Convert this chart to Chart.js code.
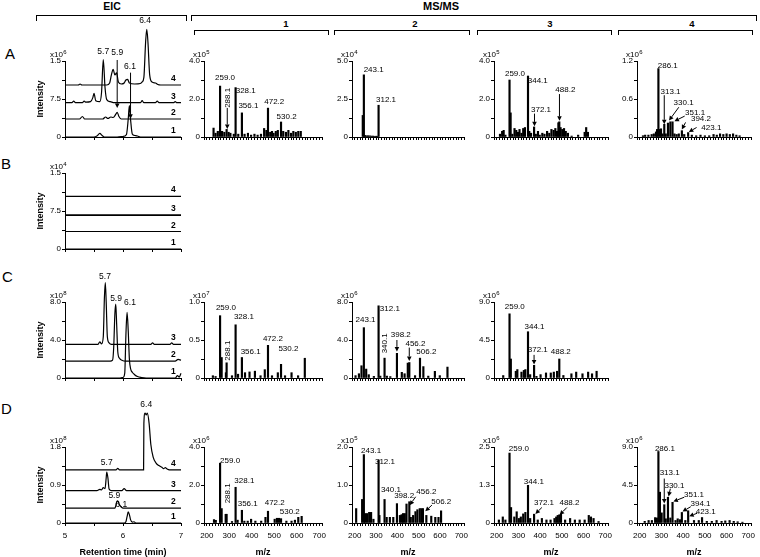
<!DOCTYPE html>
<html>
<head>
<meta charset="utf-8">
<script src="https://cdn.jsdelivr.net/npm/chart.js@4.4.0/dist/chart.umd.min.js"></script>
<style>
  body { margin: 0; background: #fff; }
  #fig { position: relative; width: 760px; height: 557px; overflow: hidden; background: #fff;
         font-family: "Liberation Sans", Arial, sans-serif; color: #000; }
  #fig canvas { position: absolute; }
  .br { position: absolute; border: 1.3px solid #000; border-bottom: none; box-sizing: border-box; }
  .hd { position: absolute; font-weight: bold; text-align: center; color: #000; }
  .row { position: absolute; font-size: 15px; line-height: 15px; }
</style>
</head>
<body>
<div id="fig">
  <div class="hd" style="left:82px;top:0;width:60px;font-size:10.5px">EIC</div>
  <div class="hd" style="left:411px;top:0;width:60px;font-size:11px">MS/MS</div>
  <div class="br" style="left:36px;top:15px;width:151px;height:6px"></div>
  <div class="br" style="left:191px;top:15px;width:566px;height:6px"></div>
  <div class="hd" style="left:276px;top:18px;width:20px;font-size:9.5px">1</div>
  <div class="hd" style="left:405px;top:18px;width:20px;font-size:9.5px">2</div>
  <div class="hd" style="left:540px;top:18px;width:20px;font-size:9.5px">3</div>
  <div class="hd" style="left:682px;top:18px;width:20px;font-size:9.5px">4</div>
  <div class="br" style="left:194px;top:30px;width:135px;height:5px"></div>
  <div class="br" style="left:334px;top:30px;width:136px;height:5px"></div>
  <div class="br" style="left:477px;top:30px;width:135px;height:5px"></div>
  <div class="br" style="left:618px;top:30px;width:135px;height:5px"></div>
  <div class="row" style="left:5px;top:46px">A</div>
  <div class="row" style="left:1px;top:156px">B</div>
  <div class="row" style="left:2px;top:269px">C</div>
  <div class="row" style="left:1px;top:401px">D</div>
</div>
<script>
// ---- EIC traces: [retention time (min), intensity above the trace's own baseline] ----
const eicA1 = [[5,0],[5.5,0],[5.55,0.02],[5.6,0.07],[5.64,0.03],[5.68,0],[5.9,0],[6.0,0.01],[6.06,0.05],[6.09,0.35],[6.11,0.62],[6.13,0.35],[6.16,0.06],[6.2,0.03],[6.25,0.02],[6.3,0],[7,0]];
const eicA2 = [[5,0],[5.25,0],[5.3,0.05],[5.34,0],[5.65,0],[5.7,0.04],[5.74,0.01],[5.79,0.04],[5.83,0.03],[5.88,0.1],[5.9,0.13],[5.93,0.05],[5.97,0],[7,0]];
const eicA3 = [[5,0],[5.12,0],[5.15,0.03],[5.18,0],[5.3,0],[5.33,0.03],[5.36,0.01],[5.44,0.02],[5.48,0.1],[5.5,0.185],[5.53,0.04],[5.6,0.02],[5.63,0.2],[5.66,0.85],[5.69,0.3],[5.72,0.06],[5.78,0.02],[5.85,0],[6.3,0],[6.33,0.04],[6.36,0],[6.56,0],[6.59,0.03],[6.62,0],[6.87,0],[6.9,0.02],[6.93,0],[7,0]];
const eicA4 = [[5,0],[5.23,0],[5.26,0.02],[5.29,0],[5.72,0],[5.77,0.04],[5.8,0.2],[5.83,0.31],[5.86,0.2],[5.89,0.24],[5.92,0.06],[5.97,0.02],[6.02,0.04],[6.05,0.1],[6.08,0.11],[6.11,0.04],[6.2,0.02],[6.3,0.03],[6.33,0.06],[6.36,0.15],[6.39,0.85],[6.41,1.1],[6.43,0.85],[6.46,0.2],[6.5,0.06],[6.56,0.04],[6.6,0.01],[6.65,0],[7,0]];
const eicA_off = [0, 0.355, 0.677, 1.026];

const eicB_flat = [[5,0],[7,0]];
const eicB_off = [0, 0.345, 0.67, 1.04];

const eicC1 = [[5,0],[5.95,0],[6.0,0.05],[6.03,0.5],[6.05,4.5],[6.07,6.9],[6.09,5.0],[6.11,2.0],[6.13,1.0],[6.16,0.6],[6.2,0.35],[6.25,0.15],[6.32,0.05],[6.4,0],[6.9,0],[6.94,0.25],[6.97,0.1],[7,0.5]];
const eicC2 = [[5,0],[5.78,0],[5.82,0.1],[5.84,1.5],[5.86,5.0],[5.875,6.0],[5.89,4.0],[5.91,1.0],[5.94,0.3],[5.98,0.1],[6.05,0],[6.9,0],[6.95,0.2],[7,0.1]];
const eicC3 = [[5,0],[5.57,0],[5.6,0.25],[5.63,0.05],[5.66,0.8],[5.68,5.0],[5.695,6.5],[5.71,4.5],[5.73,0.8],[5.76,0.15],[5.8,0],[6.48,0],[6.51,0.15],[6.54,0],[6.81,0],[6.84,0.15],[6.87,0],[7,0]];
const eicC_off = [0, 1.77, 3.55];

const eicD1 = [[5,0],[6.02,0],[6.05,0.03],[6.07,0.15],[6.09,0.263],[6.11,0.2],[6.13,0.08],[6.16,0.02],[6.19,0.03],[6.22,0],[7,0]];
const eicD2 = [[5,0],[5.86,0],[5.88,0.08],[5.9,0.176],[5.92,0.15],[5.94,0.08],[5.97,0.03],[6.0,0],[7,0]];
const eicD3 = [[5,0],[5.55,0],[5.6,0.03],[5.63,0.02],[5.66,0.07],[5.69,0.05],[5.71,0.3],[5.72,0.44],[5.74,0.3],[5.76,0.04],[5.8,0],[5.98,0],[6.02,0.05],[6.06,0],[7,0]];
const eicD4 = [[5,0],[5.88,0],[5.91,0.035],[5.94,0],[6.355,0],[6.36,1.1],[6.38,1.34],[6.4,1.3],[6.42,1.34],[6.45,1.1],[6.48,0.6],[6.52,0.3],[6.57,0.16],[6.62,0.1],[6.67,0.06],[6.7,0.03],[6.73,0.05],[6.76,0.02],[6.8,0],[7,0]];
const eicD_off = [0, 0.35, 0.766, 1.26];

// ---- MS/MS spectra: m/z and intensity (in the panel's axis units) ----
const msA1_mz  = [230, 239, 249, 259.0, 268, 278, 288.1, 297, 305, 320, 328.1, 340, 356.1, 368, 383, 397, 412, 426, 441, 455, 465, 472.2, 482, 490, 497, 507, 516, 530.2, 540, 552, 563, 575, 585, 596, 607, 618];
const msA1_int = [0.47, 0.2, 0.3, 2.68, 0.3, 0.25, 0.4, 0.25, 0.2, 0.15, 2.6, 0.15, 1.27, 0.15, 0.2, 0.1, 0.15, 0.1, 0.15, 0.45, 0.35, 1.52, 0.25, 0.3, 0.2, 0.3, 0.35, 0.79, 0.3, 0.25, 0.35, 0.2, 0.3, 0.25, 0.3, 0.3];
const msA2_mz  = [238, 243.1, 248, 255, 262, 270, 278, 285, 292, 300, 306, 312.1];
const msA2_int = [1.42, 4.09, 0.1, 0.08, 0.08, 0.08, 0.06, 0.06, 0.05, 0.05, 0.05, 2.09];
const msA3_mz  = [215, 225, 232, 240, 259.0, 264, 272, 282, 290, 298, 305, 314, 322, 330, 344.1, 350, 358, 372.1, 380, 390, 398, 410, 420, 432, 442, 452, 462, 470, 478, 484, 488.2, 494, 502, 510, 518, 528, 545, 575, 605, 612, 620];
const msA3_int = [0.15, 0.3, 0.35, 0.1, 3.0, 1.27, 0.15, 0.45, 0.35, 0.25, 0.4, 0.2, 0.45, 0.5, 3.21, 0.3, 0.2, 0.53, 0.15, 0.3, 0.1, 0.2, 0.15, 0.3, 0.2, 0.4, 0.35, 0.45, 0.3, 0.75, 0.8, 0.5, 0.4, 0.45, 0.3, 0.2, 0.05, 0.1, 0.25, 0.5, 0.25];
const msA4_mz  = [215, 225, 240, 255, 265, 275, 280, 286.1, 292, 298, 305, 313.1, 320, 330.1, 341, 351.1, 360, 370, 380, 394.2, 405, 423.1, 440, 460, 480, 500, 520, 540, 555, 570, 585, 600, 615, 630, 645, 660];
const msA4_int = [0.02, 0.03, 0.03, 0.04, 0.05, 0.08, 0.12, 1.08, 0.12, 0.13, 0.05, 0.2, 0.05, 0.22, 0.24, 0.24, 0.05, 0.04, 0.05, 0.1, 0.04, 0.07, 0.03, 0.02, 0.03, 0.02, 0.02, 0.04, 0.03, 0.05, 0.04, 0.05, 0.04, 0.05, 0.03, 0.02];

const msC1_mz  = [227, 239, 259.0, 266, 285, 288.1, 312, 328.1, 339, 356.1, 370, 390, 414, 439, 458, 472.2, 490, 516, 530.2, 548, 577, 606, 636];
const msC1_int = [0.03, 0.02, 0.82, 0.27, 0.07, 0.2, 0.03, 0.7, 0.05, 0.27, 0.07, 0.08, 0.09, 0.03, 0.11, 0.43, 0.03, 0.07, 0.18, 0.03, 0.07, 0.03, 0.26];
const msC2_mz  = [204, 220, 232, 243.1, 254, 266, 290, 312.1, 320, 340.1, 351, 367, 398.2, 421, 434, 449, 456.2, 483, 506.2, 522, 545, 576, 599, 635];
const msC2_int = [0.25, 0.45, 1.29, 5.3, 0.94, 0.35, 0.17, 7.6, 0.2, 2.09, 0.2, 0.15, 2.6, 0.6, 0.45, 1.57, 1.63, 0.25, 2.09, 1.2, 0.2, 0.7, 0.25, 1.15];
const msC3_mz  = [230, 259.0, 265, 288, 295, 314, 325, 332, 344.1, 354, 372.1, 383, 402, 427, 449, 463, 478, 488.2, 507, 544, 566, 595, 621, 639, 660];
const msC3_int = [0.29, 7.6, 2.25, 0.8, 1.0, 0.7, 0.9, 1.0, 5.48, 0.4, 1.5, 0.2, 0.4, 0.6, 0.6, 0.7, 0.8, 2.25, 0.3, 0.5, 0.7, 0.5, 0.7, 0.5, 0.8];

const msD1_mz  = [232, 240, 259.0, 266, 284, 288.1, 312, 328.1, 337, 356.1, 367, 382, 397, 416, 442, 461, 472.2, 502, 512, 521, 530.2, 554, 577, 592, 607, 622];
const msD1_int = [0.18, 0.14, 3.15, 0.76, 0.46, 0.46, 0.08, 1.88, 0.15, 0.67, 0.1, 0.1, 0.2, 0.1, 0.1, 0.3, 0.62, 0.2, 0.25, 0.25, 0.23, 0.1, 0.1, 0.15, 0.3, 0.35];
const msD2_mz  = [207, 235, 243.1, 249, 258, 268, 277, 288, 312.1, 316, 340.1, 350, 365, 381, 398.2, 412, 420, 427, 435, 443, 456.2, 463, 474, 485, 494, 505, 513, 520, 536, 559, 578, 593, 605];
const msD2_int = [0.38, 0.62, 1.8, 0.25, 0.25, 0.28, 0.28, 0.1, 1.66, 0.2, 0.62, 0.15, 0.15, 0.15, 0.51, 0.2, 0.22, 0.25, 0.25, 0.5, 0.56, 0.15, 0.2, 0.3, 0.35, 0.38, 0.38, 0.38, 0.2, 0.18, 0.15, 0.15, 0.32];
const msD3_mz  = [210, 228, 240, 259.0, 266, 281, 292, 302, 311, 322, 332, 344.1, 354, 372.1, 389, 408, 429, 448, 466, 474, 481, 488.2, 496, 515, 538, 560, 582, 605, 624, 634, 646, 669];
const msD3_int = [0.1, 0.2, 0.1, 2.3, 0.51, 0.2, 0.37, 0.15, 0.2, 0.3, 0.35, 1.24, 0.15, 0.29, 0.1, 0.15, 0.1, 0.1, 0.15, 0.2, 0.25, 0.27, 0.3, 0.1, 0.15, 0.1, 0.1, 0.1, 0.25, 0.2, 0.15, 0.05];
const msD4_mz  = [223, 241, 256, 271, 279, 286.1, 293, 301, 313.1, 320, 330.1, 341, 351.1, 365, 375, 386, 394.1, 410, 423.1, 450, 472, 487, 509, 532, 554, 577, 594, 614, 633, 651, 673];
const msD4_int = [0.2, 0.3, 0.3, 0.64, 0.6, 8.47, 3.65, 1.2, 2.17, 0.5, 3.05, 0.6, 2.45, 0.3, 0.5, 0.4, 1.25, 0.3, 1.45, 0.3, 0.3, 0.65, 0.2, 0.2, 0.3, 0.2, 0.25, 0.3, 0.2, 0.15, 0.1];

// ---- tick labels ----
const rtTicks = [5, 6, 7];
const mzTicks = [200, 300, 400, 500, 600, 700];
const traceNames4 = ['1', '2', '3', '4'];
const traceNames3 = ['1', '2', '3'];

const FONT = '"Liberation Sans", Arial, sans-serif';
Chart.defaults.font.family = FONT;
const fig = document.getElementById('fig');

function arrow(ctx, x1, y1, x2, y2) {
  const ang = Math.atan2(y2 - y1, x2 - x1), L = 4.5, H = 2.3;
  const bx = x2 - L * Math.cos(ang), by = y2 - L * Math.sin(ang);
  ctx.beginPath(); ctx.moveTo(x1, y1); ctx.lineTo(bx, by); ctx.stroke();
  ctx.beginPath();
  ctx.moveTo(x2, y2);
  ctx.lineTo(bx + H * Math.sin(ang), by - H * Math.cos(ang));
  ctx.lineTo(bx - H * Math.sin(ang), by + H * Math.cos(ang));
  ctx.closePath(); ctx.fill();
}

function makeNotes(p) {
  return {
    id: 'notes',
    afterDatasetsDraw(chart) {
      const ctx = chart.ctx, a = chart.chartArea;
      const X = v => chart.scales.x.getPixelForValue(v);
      const Y = v => chart.scales.y.getPixelForValue(v);
      ctx.save();
      ctx.fillStyle = '#000'; ctx.strokeStyle = '#000'; ctx.lineWidth = 1;

      // axis exponent, e.g. x10^6
      ctx.textAlign = 'left'; ctx.textBaseline = 'alphabetic';
      ctx.font = '8px ' + FONT;
      const ex = a.left - p.expDx, ey = a.top - 4;
      ctx.fillText('x10', ex, ey);
      const w = ctx.measureText('x10').width;
      ctx.font = '6px ' + FONT;
      ctx.fillText(p.exp, ex + w + 0.3, ey - 3.5);

      ctx.textBaseline = 'middle';
      (p.notes || []).forEach(n => {
        ctx.font = p.noteFont;
        if (n.rot) {
          ctx.save(); ctx.translate(X(n.x), Y(n.y)); ctx.rotate(-Math.PI / 2);
          ctx.textAlign = 'center'; ctx.fillText(n.t, 0, 0); ctx.restore();
        } else {
          ctx.textAlign = n.al || 'center';
          ctx.fillText(n.t, X(n.x), Y(n.y));
        }
      });
      (p.arrows || []).forEach(r => arrow(ctx, X(r[0]), Y(r[1]), X(r[2]), Y(r[3])));

      if (p.names) {
        ctx.font = 'bold 8.5px ' + FONT; ctx.textAlign = 'center'; ctx.textBaseline = 'bottom';
        p.names.forEach((nm, i) => ctx.fillText(nm, X(6.87), Y(p.offsets[i]) - 2));
      }
      if (p.yTitle) {
        ctx.save(); ctx.font = 'bold 9px ' + FONT;
        ctx.translate(a.left - 24, (a.top + a.bottom) / 2); ctx.rotate(-Math.PI / 2);
        ctx.textAlign = 'center'; ctx.textBaseline = 'middle'; ctx.fillText(p.yTitle, 0, 0);
        ctx.restore();
      }
      if (p.xTitle) {
        ctx.font = 'bold 9px ' + FONT; ctx.textAlign = 'center'; ctx.textBaseline = 'middle';
        ctx.fillText(p.xTitle, (a.left + a.right) / 2, a.bottom + 30);
      }
      ctx.restore();
    }
  };
}

function panel(p) {
  // the x scale box also clips its tick labels, so it is taller where labels are shown
  const PL = 46, PT = 50, PR = 12, PB = p.xLabels ? 40 : 10, YW = 20, XH = p.xLabels ? 22 : 4;
  const cv = document.createElement('canvas');
  cv.width = PL + p.w + PR; cv.height = PT + p.h + PB;
  cv.style.left = (p.left - PL) + 'px';
  cv.style.top = (p.top - PT) + 'px';
  fig.appendChild(cv);

  const tickFont = { family: FONT, size: 8 };
  const yStep = p.yVals[p.yVals.length - 1] / 4;
  const isMs = p.kind === 'ms';
  const xLabelSet = isMs ? mzTicks : rtTicks;

  const datasets = isMs
    ? [{ data: p.mz.map((m, i) => ({ x: m, y: p.int[i] })), backgroundColor: '#000',
         barThickness: 1.5, grouped: false, clip: false }]
    : p.traces.map((tr, i) => ({
        type: 'line',
        data: tr.map(d => ({ x: d[0], y: d[1] + p.offsets[i] })),
        borderColor: '#000', borderWidth: p.widths ? p.widths[i] : 1.2, pointRadius: 0,
        cubicInterpolationMode: 'monotone', clip: false
      }));

  new Chart(cv, {
    type: isMs ? 'bar' : 'line',
    data: { datasets },
    options: {
      responsive: false, animation: false,
      layout: { autoPadding: false, padding: { left: PL - YW, top: PT, right: PR, bottom: PB - XH } },
      plugins: { legend: { display: false }, tooltip: { enabled: false } },
      scales: {
        x: {
          type: 'linear', min: isMs ? 187.5 : 5, max: isMs ? 712.5 : 7, offset: false,
          afterFit: s => { s.height = XH; },
          ticks: {
            stepSize: isMs ? 12.5 : 0.5, autoSkip: false, includeBounds: false, maxRotation: 0,
            font: tickFont, color: '#000', padding: 5,
            callback: v => (p.xLabels && xLabelSet.some(t => Math.abs(t - v) < 1e-6)) ? String(v) : ''
          },
          grid: { drawOnChartArea: false, offset: false, tickLength: 3, color: '#000', lineWidth: 1 },
          border: { color: '#000', width: 1 }
        },
        y: {
          min: 0, max: p.yVals[p.yVals.length - 1],
          afterFit: s => { s.width = YW; },
          ticks: {
            stepSize: yStep, autoSkip: false, font: tickFont, color: '#000', padding: 1,
            callback: v => {
              const j = p.yVals.findIndex(t => Math.abs(t - v) < yStep * 0.01);
              return j >= 0 ? p.yText[j] : '';
            }
          },
          grid: { drawOnChartArea: false, tickLength: 3, color: '#000', lineWidth: 1 },
          border: { color: '#000', width: 1 }
        }
      }
    },
    plugins: [makeNotes(p)]
  });
}

// ---- layout of rows / columns ----
const rowTop = { A: 61, B: 173, C: 302, D: 447 };
const H = 76;
const msLeft = [204, 352, 494, 637];
const msW = [118, 112, 114, 114];
const nf = '8px ' + FONT;
const ef = '8.5px ' + FONT;

// EIC column
panel({ kind: 'eic', left: 65, top: rowTop.A, w: 116, h: H, exp: '6', expDx: 15, noteFont: ef,
  traces: [eicA1, eicA2, eicA3, eicA4], offsets: eicA_off, names: traceNames4,
  yVals: [0, 0.75, 1.5], yText: ['0', '7.5', '1.5'], yTitle: 'Intensity',
  notes: [{ t: '5.7', x: 5.66, y: 1.69 }, { t: '5.9', x: 5.9, y: 1.67 }, { t: '6.1', x: 6.12, y: 1.38 }, { t: '6.4', x: 6.38, y: 2.29 }],
  arrows: [[5.9, 1.52, 5.9, 0.57], [6.13, 1.27, 6.13, 0.36]] });
panel({ kind: 'eic', left: 65, top: rowTop.B, w: 116, h: H, exp: '4', expDx: 15, noteFont: ef,
  traces: [eicB_flat, eicB_flat, eicB_flat, eicB_flat], offsets: eicB_off, names: traceNames4,
  widths: [1.2, 1.2, 1.8, 1.2],
  yVals: [0, 0.75, 1.5], yText: ['0', '7.5', '1.5'], yTitle: 'Intensity' });
panel({ kind: 'eic', left: 65, top: rowTop.C, w: 116, h: H, exp: '8', expDx: 15, noteFont: ef,
  traces: [eicC1, eicC2, eicC3], offsets: eicC_off, names: traceNames3,
  yVals: [0, 4, 8], yText: ['0', '4.0', '8.0'], yTitle: 'Intensity',
  notes: [{ t: '5.7', x: 5.69, y: 10.7 }, { t: '5.9', x: 5.88, y: 8.35 }, { t: '6.1', x: 6.12, y: 7.9 }] });
panel({ kind: 'eic', left: 65, top: rowTop.D, w: 116, h: H, exp: '8', expDx: 15, noteFont: ef,
  traces: [eicD1, eicD2, eicD3, eicD4], offsets: eicD_off, names: traceNames4,
  yVals: [0, 0.9, 1.8], yText: ['0', '0.9', '1.8'], yTitle: 'Intensity',
  xLabels: true, xTitle: 'Retention time (min)',
  notes: [{ t: '6.4', x: 6.4, y: 2.8 }, { t: '5.7', x: 5.72, y: 1.44 }, { t: '5.9', x: 5.85, y: 0.65 }, { t: '6.1', x: 5.97, y: 0.43 }] });

// row A MS/MS
panel({ kind: 'ms', left: msLeft[0], top: rowTop.A, w: msW[0], h: H, exp: '5', expDx: 11, noteFont: nf,
  mz: msA1_mz, int: msA1_int, yVals: [0, 2, 4], yText: ['0', '2.0', '4.0'],
  notes: [{ t: '259.0', x: 281, y: 3.12 }, { t: '328.1', x: 373, y: 2.45 }, { t: '356.1', x: 385, y: 1.66 },
          { t: '472.2', x: 500, y: 1.83 }, { t: '530.2', x: 555, y: 1.04 }, { t: '288.1', x: 293, y: 2.06, rot: true }],
  arrows: [[291, 1.53, 291, 0.42]] });
panel({ kind: 'ms', left: msLeft[1], top: rowTop.A, w: msW[1], h: H, exp: '4', expDx: 11, noteFont: nf,
  mz: msA2_mz, int: msA2_int, yVals: [0, 2.5, 5], yText: ['0', '2.5', '5.0'],
  notes: [{ t: '243.1', x: 289, y: 4.44 }, { t: '312.1', x: 347, y: 2.44 }] });
panel({ kind: 'ms', left: msLeft[2], top: rowTop.A, w: msW[2], h: H, exp: '5', expDx: 11, noteFont: nf,
  mz: msA3_mz, int: msA3_int, yVals: [0, 2, 4], yText: ['0', '2.0', '4.0'],
  notes: [{ t: '259.0', x: 284, y: 3.32 }, { t: '344.1', x: 389, y: 2.95 }, { t: '372.1', x: 404, y: 1.45 }, { t: '488.2', x: 516, y: 2.47 }],
  arrows: [[374, 1.23, 374, 0.56], [489, 2.26, 489, 0.85]] });
panel({ kind: 'ms', left: msLeft[3], top: rowTop.A, w: msW[3], h: H, exp: '6', expDx: 11, noteFont: nf,
  mz: msA4_mz, int: msA4_int, yVals: [0, 0.6, 1.2], yText: ['0', '0.6', '1.2'],
  notes: [{ t: '286.1', x: 283, y: 1.12, al: 'left' }, { t: '313.1', x: 342, y: 0.71 }, { t: '330.1', x: 402, y: 0.54 },
          { t: '351.1', x: 455, y: 0.39 }, { t: '394.2', x: 482, y: 0.29 }, { t: '423.1', x: 530, y: 0.15 }],
  arrows: [[313, 0.66, 313, 0.2], [380, 0.47, 335, 0.26], [407, 0.33, 360, 0.25], [411, 0.23, 394, 0.12], [462, 0.15, 426, 0.08]] });

// row C MS/MS
panel({ kind: 'ms', left: msLeft[0], top: rowTop.C, w: msW[0], h: H, exp: '7', expDx: 11, noteFont: nf,
  mz: msC1_mz, int: msC1_int, yVals: [0, 0.5, 1], yText: ['0', '0.5', '1.0'],
  notes: [{ t: '259.0', x: 285, y: 0.93 }, { t: '328.1', x: 365, y: 0.8 }, { t: '288.1', x: 293, y: 0.36, rot: true },
          { t: '356.1', x: 395, y: 0.35 }, { t: '472.2', x: 494, y: 0.52 }, { t: '530.2', x: 563, y: 0.39 }] });
panel({ kind: 'ms', left: msLeft[1], top: rowTop.C, w: msW[1], h: H, exp: '6', expDx: 11, noteFont: nf,
  mz: msC2_mz, int: msC2_int, yVals: [0, 4, 8], yText: ['0', '4.0', '8.0'],
  notes: [{ t: '243.1', x: 251, y: 6.1 }, { t: '312.1', x: 318, y: 7.3, al: 'left' }, { t: '340.1', x: 340, y: 3.65, rot: true },
          { t: '398.2', x: 416, y: 4.52 }, { t: '456.2', x: 485, y: 3.58 }, { t: '506.2', x: 536, y: 2.78 }],
  arrows: [[398, 4.0, 398, 2.8], [456, 3.2, 456, 1.8]] });
panel({ kind: 'ms', left: msLeft[2], top: rowTop.C, w: msW[2], h: H, exp: '6', expDx: 11, noteFont: nf,
  mz: msC3_mz, int: msC3_int, yVals: [0, 4.5, 9], yText: ['0', '4.5', '9.0'],
  notes: [{ t: '259.0', x: 283, y: 8.4 }, { t: '344.1', x: 374, y: 6.07 }, { t: '372.1', x: 389, y: 3.33 }, { t: '488.2', x: 495, y: 3.13 }],
  arrows: [[372, 2.74, 372, 1.6]] });

// row D MS/MS
panel({ kind: 'ms', left: msLeft[0], top: rowTop.D, w: msW[0], h: H, exp: '6', expDx: 11, noteFont: nf,
  mz: msD1_mz, int: msD1_int, yVals: [0, 2, 4], yText: ['0', '2.0', '4.0'], xLabels: true, xTitle: 'm/z',
  notes: [{ t: '259.0', x: 259, y: 3.3, al: 'left' }, { t: '328.1', x: 367, y: 2.23 }, { t: '288.1', x: 295, y: 1.56, rot: true },
          { t: '356.1', x: 382, y: 0.99 }, { t: '472.2', x: 502, y: 1.06 }, { t: '530.2', x: 569, y: 0.58 }] });
panel({ kind: 'ms', left: msLeft[1], top: rowTop.D, w: msW[1], h: H, exp: '5', expDx: 11, noteFont: nf,
  mz: msD2_mz, int: msD2_int, yVals: [0, 1, 2], yText: ['0', '1.0', '2.0'], xLabels: true, xTitle: 'm/z',
  notes: [{ t: '243.1', x: 277, y: 1.91 }, { t: '312.1', x: 342, y: 1.62 }, { t: '340.1', x: 370, y: 0.88 },
          { t: '398.2', x: 432, y: 0.71 }, { t: '456.2', x: 536, y: 0.82 }, { t: '506.2', x: 606, y: 0.56 }],
  arrows: [[486, 0.69, 458, 0.47], [562, 0.47, 531, 0.31]] });
panel({ kind: 'ms', left: msLeft[2], top: rowTop.D, w: msW[2], h: H, exp: '6', expDx: 11, noteFont: nf,
  mz: msD3_mz, int: msD3_int, yVals: [0, 1.25, 2.5], yText: ['0', '1.3', '2.5'], xLabels: true, xTitle: 'm/z',
  notes: [{ t: '259.0', x: 302, y: 2.43 }, { t: '344.1', x: 371, y: 1.35 }, { t: '372.1', x: 418, y: 0.65 }, { t: '488.2', x: 535, y: 0.65 }],
  arrows: [[408, 0.51, 378, 0.3], [523, 0.51, 490, 0.27]] });
panel({ kind: 'ms', left: msLeft[3], top: rowTop.D, w: msW[3], h: H, exp: '6', expDx: 11, noteFont: nf,
  mz: msD4_mz, int: msD4_int, yVals: [0, 4.5, 9], yText: ['0', '4.5', '9.0'], xLabels: true, xTitle: 'm/z',
  notes: [{ t: '286.1', x: 316, y: 8.75 }, { t: '313.1', x: 338, y: 5.94 }, { t: '330.1', x: 360, y: 4.46 },
          { t: '351.1', x: 450, y: 3.33 }, { t: '394.1', x: 480, y: 2.25 }, { t: '423.1', x: 504, y: 1.33 }],
  arrows: [[313, 5.26, 313, 2.3], [341, 4.06, 333, 3.15], [405, 3.05, 355, 2.55], [435, 1.93, 397, 1.35], [465, 1.16, 428, 0.8]] });
</script>
</body>
</html>
